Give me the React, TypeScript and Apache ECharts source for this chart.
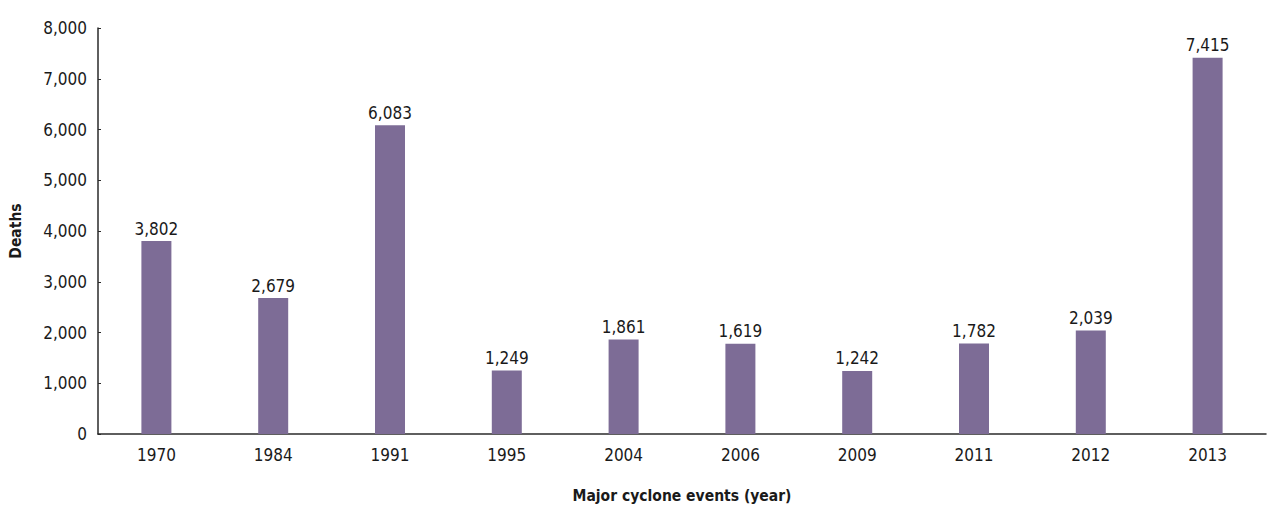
import React, { useEffect, useRef } from "react";
import * as echarts from "echarts";

const years = ["1970", "1984", "1991", "1995", "2004", "2006", "2009", "2011", "2012", "2013"];
// bar heights as drawn in the picture
const barHeights = [3802, 2679, 6083, 1249, 1861, 1780, 1242, 1782, 2039, 7415];
// value labels as printed above the bars
const labelTexts = ["3,802", "2,679", "6,083", "1,249", "1,861", "1,619", "1,242", "1,782", "2,039", "7,415"];
const yTicks = { min: 0, max: 8000, interval: 1000 };

const FONT = "'Liberation Sans Narrow', 'DejaVu Sans Condensed', sans-serif";
const SIZE = 17;
const NAME_SIZE = 15.5;

export default function App() {
  const ref = useRef<HTMLDivElement>(null);
  useEffect(() => {
    if (!ref.current) return;
    const chart = echarts.init(ref.current, null, { renderer: "svg" });
    chart.setOption({
      animation: false,
      grid: { left: 96, right: 20, top: 28, bottom: 72, containLabel: false },
      xAxis: {
        type: "category",
        data: years,
        name: "Major cyclone events (year)",
        nameLocation: "middle",
        nameGap: 54,
        nameTextStyle: { fontFamily: FONT, fontSize: NAME_SIZE, fontWeight: "bold", color: "#1a1a1a" },
        axisLine: { lineStyle: { color: "#2a2a2a", width: 1.5 } },
        axisTick: { show: false },
        axisLabel: { fontFamily: FONT, fontSize: SIZE, color: "#1a1a1a", margin: 12 },
      },
      yAxis: {
        type: "value",
        min: yTicks.min,
        max: yTicks.max,
        interval: yTicks.interval,
        name: "Deaths",
        nameLocation: "middle",
        nameGap: 74,
        nameTextStyle: { fontFamily: FONT, fontSize: NAME_SIZE, fontWeight: "bold", color: "#1a1a1a" },
        axisLine: { show: true, lineStyle: { color: "#2a2a2a", width: 1.5 } },
        axisTick: { show: true, inside: true, length: 3, lineStyle: { color: "#2a2a2a" } },
        splitLine: { show: false },
        axisLabel: {
          fontFamily: FONT,
          fontSize: SIZE,
          color: "#1a1a1a",
          margin: 11,
          formatter: (v: number) => v.toLocaleString("en-US"),
        },
      },
      series: [
        {
          type: "bar",
          data: barHeights,
          barWidth: 30,
          itemStyle: { color: "#7d6c96" },
          label: {
            show: true,
            position: "top",
            distance: 4,
            fontFamily: FONT,
            fontSize: SIZE,
            color: "#1a1a1a",
            formatter: (p: any) => labelTexts[p.dataIndex],
          },
        },
      ],
    });
    return () => chart.dispose();
  }, []);
  return (
    <div
      ref={ref}
      style={{ position: "fixed", left: 0, top: 0, width: 1286, height: 509, background: "#fff" }}
    />
  );
}
